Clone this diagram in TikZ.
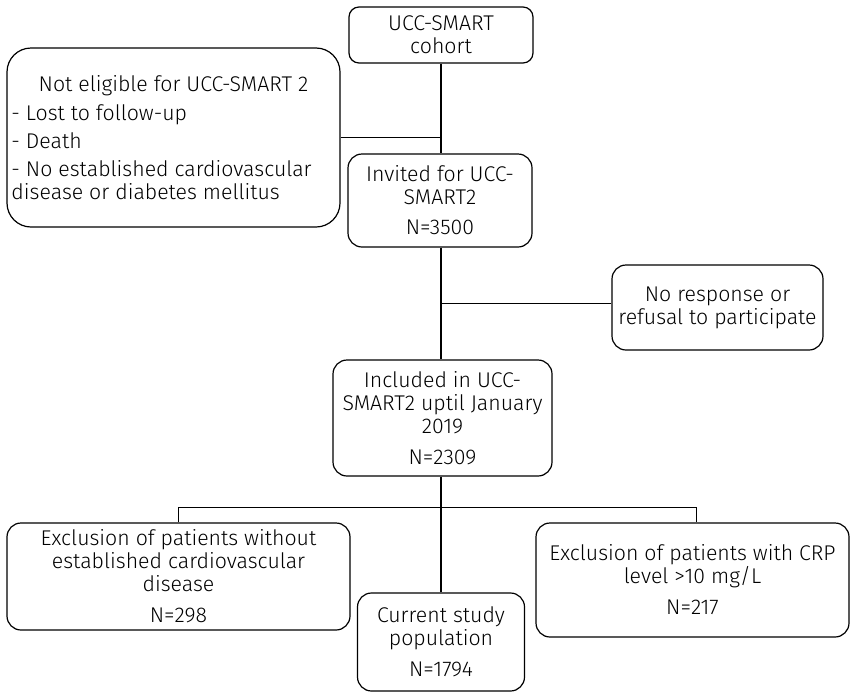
\documentclass[tikz,border=0pt]{standalone}
\usepackage{fontspec}
\setmainfont{Fira Sans}[UprightFont={* Light}]
\begin{document}
\begin{tikzpicture}[x=1pt,y=-1pt,
  box/.style={draw, line width=1.2pt, rounded corners=14pt, align=center, inner sep=0pt,
    font=\fontsize{21.3}{23}\selectfont},
  spine/.style={line width=2.6pt},
  link/.style={line width=1pt}]
\useasboundingbox (0,0) rectangle (851,691);
% boxes
\node[box, rounded corners=10pt, minimum width=184pt, minimum height=56pt] (cohort) at (441,35)
  {UCC-SMART\\cohort};
\node[box, rounded corners=24pt, minimum width=333pt, minimum height=179pt, align=left] (noteleg) at (173.5,137.5)
  {\makebox[324pt]{Not eligible for UCC-SMART 2}\\[6pt]
   - Lost to follow-up\\[5pt]
   - Death\\[5pt]
   - No established cardiovascular\\
   disease or diabetes mellitus};
\node[box, minimum width=184pt, minimum height=93pt] (invited) at (440,200.5)
  {Invited for UCC-\\SMART2\\[7pt]N=3500};
\node[box, minimum width=211pt, minimum height=85pt] (noresp) at (717.5,307.5)
  {No response or\\refusal to participate};
\node[box, minimum width=219pt, minimum height=116pt] (included) at (442.5,418)
  {Included in UCC-\\SMART2 uptil January\\2019\\[8pt]N=2309};
\node[box, minimum width=343pt, minimum height=107pt] (exclA) at (178.5,576.5)
  {Exclusion of patients without\\established cardiovascular\\disease\\[8pt]N=298};
\node[box, minimum width=167pt, minimum height=98pt] (current) at (441,642)
  {Current study\\population\\[8pt]N=1794};
\node[box, minimum width=313pt, minimum height=114pt] (exclB) at (692.5,580)
  {Exclusion of patients with CRP\\level >10 mg/L\\[8pt]N=217};
% junctions
\coordinate (j1) at (441,137.5);
\coordinate (j2) at (441,303);
\coordinate (j3) at (441,507);
\coordinate (r3) at (696,507);
% connectors
\draw[spine] (cohort.south -| j1) -- (invited.north -| j1);
\draw[spine] (invited.south -| j1) -- (included.north -| j1);
\draw[spine] (included.south -| j1) -- (current.north -| j1);
\draw[link] (noteleg.east) -- (j1);
\draw[link] (j2) -- (j2 -| noresp.west);
\draw[link] (exclA.north) -- (exclA.north |- j3) -- (r3) -- (r3 |- exclB.north);
\end{tikzpicture}
\end{document}
